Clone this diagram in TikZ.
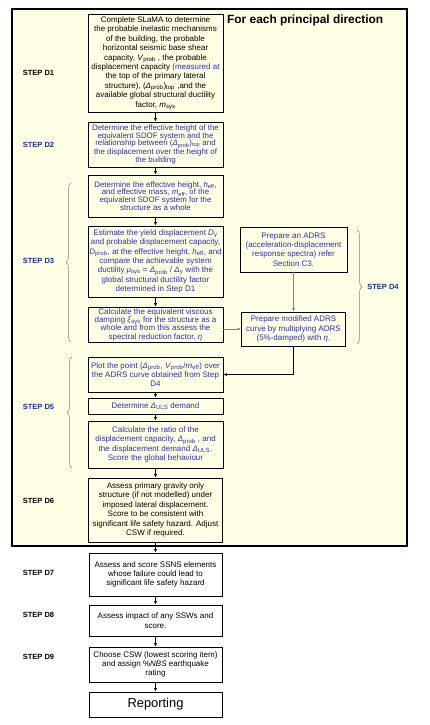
\documentclass[tikz,border=0pt]{standalone}
\usepackage{fontspec}
\setmainfont{Liberation Sans}
\usetikzlibrary{arrows.meta,decorations.pathreplacing}
\definecolor{bg}{RGB}{255,255,229}
\definecolor{bluetxt}{RGB}{45,45,190}
\definecolor{steplbl}{RGB}{25,45,160}
\newcommand{\sbs}[1]{\textsubscript{#1}}
\newcommand{\Dl}{\textit{Δ}}
\begin{document}
\begin{tikzpicture}[x=1pt,y=-1pt,
  stepbox/.style={draw=black, line width=0.9pt, fill=bg, align=center, inner sep=0pt,
    font=\fontsize{8}{9.4}\selectfont},
  tight/.style={font=\fontsize{7.9}{7.7}\selectfont},
  snug/.style={font=\fontsize{8}{8.3}\selectfont},
  whitebox/.style={stepbox, fill=white},
  steptxt/.style={font=\bfseries\fontsize{7.5}{8}\selectfont, inner sep=0pt},
  arr/.style={line width=0.6pt, -{Latex[length=3.5pt,width=3.2pt]}},
  brc/.style={draw=gray, line width=0.5pt, decorate, decoration={brace, amplitude=5pt}}]
\useasboundingbox (0,0) rectangle (429,725);
\fill[white] (0,0) rectangle (429,725);
\node[draw, line width=1.2pt, fill=bg, minimum width=395, minimum height=537, inner sep=0pt] (frame) at (209.5,277.5) {};
\node[font=\bfseries\fontsize{11.9}{13}\selectfont, anchor=west, inner sep=0pt] (title) at (227,20) {For each principal direction};

\node[stepbox, minimum width=135, minimum height=98] (d1) at (155.5,63) {Complete SLaMA to determine\\ the probable inelastic mechanisms\\ of the building, the probable\\ horizontal seismic base shear\\ capacity, \textit{V}\sbs{prob} , the probable\\ displacement capacity \color{bluetxt}(measured at\\ the top of the primary lateral\\ structure), (\Dl\sbs{prob})\sbs{top} \color{black},and the\\ available global structural ductility\\ factor, \textit{m}\sbs{sys}};
\node[stepbox, tight, text=bluetxt, minimum width=135, minimum height=45] (d2) at (155.5,144.5) {Determine the effective height of the\\ equivalent SDOF system and the\\ relationship between (\Dl\sbs{prob})\sbs{top} and\\ the displacement over the height of\\ the building};
\node[stepbox, tight, text=bluetxt, minimum width=135, minimum height=42] (d3a) at (155.5,196) {Determine the effective height, \textit{h}\sbs{eff},\\ and effective mass, \textit{m}\sbs{eff}, of the\\ equivalent SDOF system for the\\ structure as a whole};
\node[stepbox, text=bluetxt, minimum width=135, minimum height=71] (d3b) at (155.5,261.5) {Estimate the yield displacement \textit{D}\sbs{y}\\ and probable displacement capacity,\\ \textit{D}\sbs{prob}, at the effective height, \textit{h}\sbs{eff}, and\\ compare the achievable system\\ ductility \textit{μ}\sbs{sys} = \Dl\sbs{prob} / \Dl\sbs{y} with the\\ global structural ductility factor\\ determined in Step D1};
\node[stepbox, snug, text=bluetxt, minimum width=135, minimum height=35] (d3c) at (155.5,324.5) {Calculate the equivalent viscous\\ damping \textit{ξ}\sbs{sys} for the structure as a\\ whole and from this assess the\\ spectral reduction factor, \textit{η}};
\node[stepbox, text=bluetxt, minimum width=107, minimum height=45] (d4a) at (293.5,249.5) {Prepare an ADRS\\ (acceleration-displacement\\ response spectra) refer\\ Section C3.};
\node[stepbox, text=bluetxt, minimum width=104, minimum height=34] (d4b) at (293.5,329) {Prepare modified ADRS\\ curve by multiplying ADRS\\ (5\%-damped) with \textit{η}.};
\node[stepbox, text=bluetxt, minimum width=135, minimum height=35] (d5a) at (155.5,374.5) {Plot the point (\Dl\sbs{prob}, \textit{V}\sbs{prob}/\textit{m}\sbs{eff}) over\\ the ADRS curve obtained from Step\\ D4};
\node[stepbox, text=bluetxt, minimum width=135, minimum height=16] (d5b) at (155.5,406) {Determine \Dl\sbs{ULS} demand};
\node[stepbox, text=bluetxt, minimum width=135, minimum height=47] (d5c) at (155.5,444.5) {Calculate the ratio of the\\ displacement capacity, \Dl\sbs{prob} , and\\ the displacement demand \Dl\sbs{ULS}.\\ Score the global behaviour};
\node[stepbox, minimum width=134, minimum height=64] (d6) at (155.5,510) {Assess primary gravity only\\ structure (if not modelled) under\\ imposed lateral displacement.\\ Score to be consistent with\\ significant life safety hazard. Adjust\\ CSW if required.};
\node[whitebox, minimum width=133, minimum height=43] (d7) at (155.5,574.5) {Assess and score SSNS elements\\ whose failure could lead to\\ significant life safety hazard};
\node[whitebox, minimum width=133, minimum height=31] (d8) at (155.5,620.5) {Assess impact of any SSWs and\\ score.};
\node[whitebox, minimum width=133, minimum height=35] (d9) at (155.5,664.5) {Choose CSW (lowest scoring item)\\ and assign \%\textit{NBS} earthquake\\ rating};
\node[whitebox, font=\fontsize{12.9}{14}\selectfont, minimum width=133, minimum height=25] (rep) at (155.5,704.5) {Reporting};

\node[steptxt] (s1) at (38.5,73) {STEP D1};
\node[steptxt, text=steplbl] (s2) at (38.5,145) {STEP D2};
\node[steptxt, text=steplbl] (s3) at (38.5,261) {STEP D3};
\node[steptxt, text=steplbl] (s4) at (383,287) {STEP D4};
\node[steptxt, text=steplbl] (s5) at (38.5,407) {STEP D5};
\node[steptxt] (s6) at (38.5,501) {STEP D6};
\node[steptxt] (s7) at (38.5,573) {STEP D7};
\node[steptxt] (s8) at (38.5,615) {STEP D8};
\node[steptxt] (s9) at (38.5,657) {STEP D9};

\draw[arr] (d1) -- (d2);
\draw[arr] (d2) -- (d3a);
\draw[arr] (d3a) -- (d3b);
\draw[arr] (d3b) -- (d3c);
\draw[arr, draw=gray] (d3c.east |- d4b.west) -- (d4b.west);
\draw[arr, draw=gray] (d4a) -- (d4b);
\draw[arr] (d4b.south) |- (d5a.east);
\draw[arr] (d5a) -- (d5b);
\draw[arr] (d5b) -- (d5c);
\draw[arr] (d5c) -- (d6);
\draw[arr] (d6) -- (d7);
\draw[arr] (d7) -- (d8);
\draw[arr] (d8) -- (d9);
\draw[arr] (d9) -- (rep);

\draw[brc] (71,342) -- (71,183);
\draw[brc] (357,230) -- (357,344);
\draw[brc] (72,468) -- (72,357);
\end{tikzpicture}
\end{document}
